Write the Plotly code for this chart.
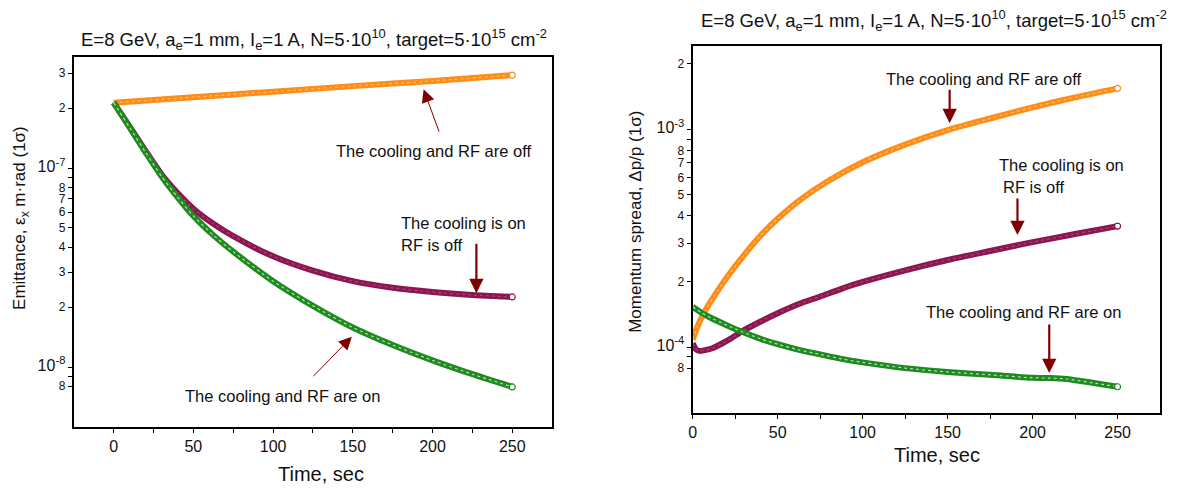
import numpy as np
import plotly.graph_objects as go

W, H = 1180, 488

# ---- Emittance vs time (left panel) ----
t_em_off = [0, 50, 100, 150, 200, 250]
em_off = [2.13e-7, 2.27e-7, 2.42e-7, 2.58e-7, 2.74e-7, 2.93e-7]

t_em = [0, 10, 20, 30, 40, 50, 62.5, 75, 100, 125, 150, 175, 200, 225, 250]
em_cool = [2.13e-7, 1.62e-7, 1.22e-7, 9.3e-8, 7.5e-8, 6.25e-8, 5.25e-8, 4.55e-8,
           3.6e-8, 3.05e-8, 2.7e-8, 2.5e-8, 2.38e-8, 2.3e-8, 2.25e-8]
em_cool_rf = [2.13e-7, 1.6e-7, 1.2e-7, 9.1e-8, 7.15e-8, 5.75e-8, 4.6e-8, 3.8e-8,
              2.7e-8, 2.03e-8, 1.58e-8, 1.29e-8, 1.08e-8, 9.2e-9, 7.94e-9]

# ---- Momentum spread vs time (right panel) ----
t_dp_off = [0, 3, 7, 12, 20, 30, 40, 50, 65, 80, 100, 125, 150, 175, 200, 225, 250]
dp_off = [1.08e-4, 1.25e-4, 1.45e-4, 1.68e-4, 2.08e-4, 2.63e-4, 3.25e-4, 3.88e-4,
          4.85e-4, 5.8e-4, 7.05e-4, 8.5e-4, 9.9e-4, 1.12e-3, 1.26e-3, 1.40e-3, 1.54e-3]

t_dp_cool = [0, 2, 4, 8, 12, 17, 23, 29, 40, 50, 62.5, 75, 87.5, 100, 125, 150, 175,
             200, 225, 250]
dp_cool = [1.04e-4, 0.975e-4, 0.96e-4, 0.97e-4, 0.99e-4, 1.035e-4, 1.10e-4, 1.18e-4,
           1.31e-4, 1.43e-4, 1.576e-4, 1.705e-4, 1.85e-4, 1.99e-4, 2.25e-4, 2.51e-4,
           2.76e-4, 3.03e-4, 3.3e-4, 3.59e-4]

t_dp_cool_rf = [0, 5, 10, 20, 29, 40, 50, 62.5, 75, 87.5, 100, 125, 150, 175, 200, 210,
                220, 235, 250]
dp_cool_rf = [1.53e-4, 1.44e-4, 1.37e-4, 1.26e-4, 1.175e-4, 1.09e-4, 1.03e-4, 0.97e-4,
              0.925e-4, 0.882e-4, 0.85e-4, 0.80e-4, 0.768e-4, 0.745e-4, 0.722e-4,
              0.72e-4, 0.713e-4, 0.685e-4, 0.657e-4]

# ---- Tick values / labels ----
x_major = [0, 50, 100, 150, 200, 250]
x_minor = [25, 75, 125, 175, 225]

BIG = '<span style="font-size:16px">10<sup>%s</sup></span>'

em_tickvals = [8e-9, 1e-8, 2e-8, 3e-8, 4e-8, 5e-8, 6e-8, 7e-8, 8e-8, 1e-7, 2e-7, 3e-7]
em_ticktext = ["8", BIG % "-8", "2", "3", "4", "5", "6", "7", "8", BIG % "-7", "2", "3"]
em_minor = [9e-9, 9e-8]

dp_tickvals = [8e-5, 1e-4, 2e-4, 3e-4, 4e-4, 5e-4, 6e-4, 7e-4, 8e-4, 1e-3, 2e-3]
dp_ticktext = ["8", BIG % "-4", "2", "3", "4", "5", "6", "7", "8", BIG % "-3", "2"]
dp_minor = [9e-5, 9e-4]

ORANGE = "#ff8c17"
PURPLE = "#8c1650"
GREEN = "#1f8a1f"
ARROW = "#800000"
FONT = "Arial, Liberation Sans, sans-serif"


def px(x):
    return x / W


def py(y):
    return 1 - y / H


fig = go.Figure()


def add_curve(t, v, color, xa, ya, texture):
    fig.add_trace(go.Scatter(x=t, y=v, mode="lines", xaxis=xa, yaxis=ya,
                             line=dict(color=color, width=6, shape="spline", smoothing=0.7),
                             showlegend=False, hoverinfo="skip"))
    fig.add_trace(go.Scatter(x=t, y=v, mode="lines", xaxis=xa, yaxis=ya,
                             line=dict(color=texture, width=1.2, shape="spline",
                                       smoothing=0.7, dash="dot"),
                             showlegend=False, hoverinfo="skip"))
    fig.add_trace(go.Scatter(x=[t[-1]], y=[v[-1]], mode="markers", xaxis=xa, yaxis=ya,
                             marker=dict(symbol="circle", size=6, color="white",
                                         line=dict(color=color, width=1.2)),
                             showlegend=False, hoverinfo="skip"))


add_curve(t_em_off, em_off, ORANGE, "x", "y", "rgba(255,220,170,0.6)")
add_curve(t_em, em_cool, PURPLE, "x", "y", "rgba(220,150,190,0.35)")
add_curve(t_em, em_cool_rf, GREEN, "x", "y", "rgba(220,255,220,0.75)")

add_curve(t_dp_off, dp_off, ORANGE, "x2", "y2", "rgba(255,220,170,0.6)")
add_curve(t_dp_cool, dp_cool, PURPLE, "x2", "y2", "rgba(220,150,190,0.35)")
add_curve(t_dp_cool_rf, dp_cool_rf, GREEN, "x2", "y2", "rgba(220,255,220,0.75)")

axis_common = dict(showline=True, linewidth=2, linecolor="black", mirror=True,
                   showgrid=False, zeroline=False, ticks="outside", tickwidth=1,
                   tickcolor="black", ticklen=4)

xcommon = dict(axis_common, tickmode="array", tickvals=x_major,
               ticktext=[str(v) for v in x_major],
               tickfont=dict(family=FONT, size=16, color="#111"),
               minor=dict(tickmode="array", tickvals=x_minor, ticks="outside",
                          ticklen=4, tickcolor="black", tickwidth=1))

fig.update_layout(
    width=W, height=H, autosize=False,
    margin=dict(l=0, r=0, t=0, b=0),
    paper_bgcolor="white", plot_bgcolor="white",
    font=dict(family=FONT, color="#111"),
    xaxis=dict(xcommon, domain=[px(70), px(550)], range=[-25, 275], anchor="y"),
    yaxis=dict(axis_common, domain=[py(427), py(57)], type="log",
               range=[-8.3015, -6.442], anchor="x",
               tickmode="array", tickvals=em_tickvals, ticktext=em_ticktext,
               tickfont=dict(family=FONT, size=12, color="#111"),
               minor=dict(tickmode="array", tickvals=em_minor, ticks="outside",
                          ticklen=4, tickcolor="black", tickwidth=1)),
    xaxis2=dict(xcommon, domain=[px(691), px(1160)], range=[0, 275], anchor="y2"),
    yaxis2=dict(axis_common, domain=[py(413), py(46)], type="log",
                range=[-4.303, -2.618], anchor="x2",
                tickmode="array", tickvals=dp_tickvals, ticktext=dp_ticktext,
                tickfont=dict(family=FONT, size=12, color="#111"),
                minor=dict(tickmode="array", tickvals=dp_minor, ticks="outside",
                           ticklen=4, tickcolor="black", tickwidth=1)),
)

TITLE = ("E=8 GeV, a<sub>e</sub>=1 mm, I<sub>e</sub>=1 A, N=5·10<sup>10</sup>, "
         "target=5·10<sup>15</sup> cm<sup>-2</sup>")

anns = []


def text_at(x, y, text, size=16, xanchor="center", angle=0):
    anns.append(dict(x=px(x), y=py(y), xref="paper", yref="paper", text=text,
                     showarrow=False, xanchor=xanchor, yanchor="middle",
                     textangle=angle, font=dict(family=FONT, size=size, color="#111")))


def arrow(xa, ya, t, v, ax, ay, width, size):
    anns.append(dict(x=t, y=np.log10(v), xref=xa, yref=ya, text="", showarrow=True,
                     ax=ax, ay=ay, axref="pixel", ayref="pixel",
                     arrowhead=2, arrowsize=size, arrowwidth=width, arrowcolor=ARROW))


# titles
text_at(311, 40, TITLE, 18.5)
text_at(933, 20, TITLE, 18.5)

# axis titles
text_at(318, 474, "Time, sec", 20)
text_at(936, 455, "Time, sec", 20)
text_at(17, 218, "Emittance, ε<sub>x</sub> m·rad (1σ)", 17, angle=-90)
text_at(633, 222, "Momentum spread, Δp/p (1σ)", 17, angle=-90)

# left panel labels and arrows
text_at(431, 151, "The cooling and RF are off", 16.5)
arrow("x", "y", 194.4, 2.49e-7, 16, 44, 1, 2.6)
text_at(396, 223, "The cooling is on", 16.5, xanchor="left")
text_at(396, 245, "RF is off", 16.5, xanchor="left")
arrow("x", "y", 227.5, 2.35e-8, 0, -51, 2.2, 1.3)
text_at(279, 396, "The cooling and RF are on", 16.5)
arrow("x", "y", 149.4, 1.42e-8, -40, 41, 1, 2.6)

# right panel labels and arrows
text_at(983, 79, "The cooling and RF are off", 16.5)
arrow("x2", "y2", 151.2, 1.066e-3, 0, -35, 2.2, 1.3)
text_at(1061, 165, "The cooling is on", 16.5)
text_at(1034, 187, "RF is off", 16.5)
arrow("x2", "y2", 191.1, 3.27e-4, 0, -38, 2.2, 1.3)
text_at(1023, 312, "The cooling and RF are on", 16.5)
arrow("x2", "y2", 209.8, 7.6e-5, 0, -50, 2.2, 1.3)

fig.update_layout(annotations=anns)

fig.write_html("out.html")
